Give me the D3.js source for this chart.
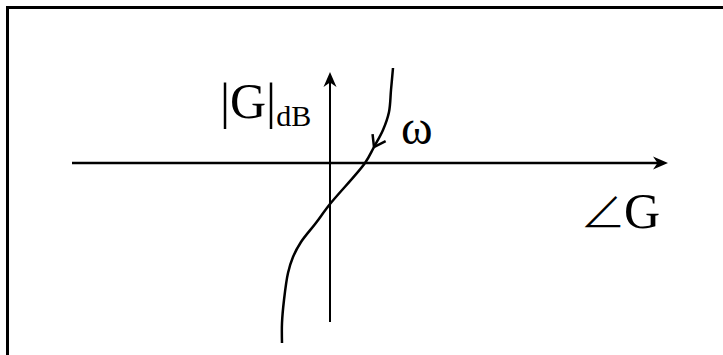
<!DOCTYPE html>
<html>
<head>
<meta charset="utf-8">
<script src="https://cdn.jsdelivr.net/npm/d3@7"></script>
<style>
    body { margin: 0; background: #fff; }
    text { font-family: "Liberation Serif", "Times New Roman", serif; fill: #000; }
</style>
</head>
<body>
<div id="nichols"></div>
<script>
//define sizes
let width = 723,
    height = 355;

let ink = "#000";

// phase (x) and magnitude in dB (y) of the curve (arbitrary units)
let phase = [6.3, 6.1, 5.9, 5.3, 4.4, 3.5, 0, -1.45, -2.9, -3.7, -4.2, -4.6, -4.8, -4.8];
let magDb = [9.5, 7.3, 5.1, 3.3, 1.6, 0, -4.1, -6.05, -7.9, -9.4, -11.0, -13.7, -16.0, -18.0];

// axis extents in the same units
let phaseExtent = [-25.8, 33.8];
let magExtent = [-15.9, 9.1];

// label texts
let yLabel = "|G|", ySub = "dB", angleSign = "\u2220", xLabel = "G", freqLabel = "\u03c9";

let curveData = phase.map((p, i) => ({phase: p, mag: magDb[i]}));

let svg = d3.select("#nichols")
    .append("svg")
    .attr("width", width)
    .attr("height", height);

// frame, only top and left edges show
svg.append("path")
    .attr("d", "M7.5," + height + "V7.5H" + width)
    .attr("fill", "none")
    .attr("stroke", ink)
    .attr("stroke-width", 3);

let xScale = d3.scaleLinear()
    .domain(phaseExtent)
    .range([72, 668]);

let yScale = d3.scaleLinear()
    .domain(magExtent)
    .range([322, 72]);

// horizontal axis (angle)
svg.append("line")
    .attr("x1", xScale(phaseExtent[0]))
    .attr("x2", xScale(phaseExtent[1]) - 6)
    .attr("y1", yScale(0))
    .attr("y2", yScale(0))
    .attr("stroke", ink)
    .attr("stroke-width", 2.5);

// vertical axis (magnitude)
svg.append("line")
    .attr("x1", xScale(0))
    .attr("x2", xScale(0))
    .attr("y1", yScale(magExtent[0]))
    .attr("y2", yScale(magExtent[1]) + 6)
    .attr("stroke", ink)
    .attr("stroke-width", 2);

// arrow heads, barbed style
function arrowHead(x, y, angle) {
    let p = d3.path();
    p.moveTo(0, 0);
    p.lineTo(-15, -6.5);
    p.lineTo(-10.5, 0);
    p.lineTo(-15, 6.5);
    p.closePath();
    svg.append("path")
        .attr("d", p.toString())
        .attr("fill", ink)
        .attr("transform", "translate(" + x + "," + y + ") rotate(" + angle + ")");
}
arrowHead(xScale(phaseExtent[1]), yScale(0), 0);
arrowHead(xScale(0), yScale(magExtent[1]), -90);

// the frequency curve
svg.append("path")
    .datum(curveData)
    .attr("fill", "none")
    .attr("stroke", ink)
    .attr("stroke-width", 2.5)
    .attr("d", d3.line()
        .x(d => xScale(d.phase))
        .y(d => yScale(d.mag))
        .curve(d3.curveCatmullRom.alpha(0.5)));

// open chevron showing direction of increasing omega
let k = 4;
let tipX = xScale(curveData[k].phase), tipY = yScale(curveData[k].mag);
let backX = xScale(curveData[k - 1].phase) - xScale(curveData[k + 1].phase);
let backY = yScale(curveData[k - 1].mag) - yScale(curveData[k + 1].mag);
let backAng = Math.atan2(backY, backX);
let armLen = 13, spread = 35 * Math.PI / 180;
svg.append("path")
    .attr("d", "M" + (tipX + armLen * Math.cos(backAng - spread)) + "," + (tipY + armLen * Math.sin(backAng - spread)) +
        "L" + tipX + "," + tipY +
        "L" + (tipX + armLen * Math.cos(backAng + spread)) + "," + (tipY + armLen * Math.sin(backAng + spread)))
    .attr("fill", "none")
    .attr("stroke", ink)
    .attr("stroke-width", 2.5);

// labels
let yText = svg.append("text")
    .attr("x", xScale(0) - 110)
    .attr("y", yScale(0) - 45)
    .attr("font-size", 50);
yText.append("tspan").text(yLabel);
yText.append("tspan")
    .attr("font-size", 30)
    .attr("dy", 8)
    .text(ySub);

svg.append("text")
    .attr("x", xScale(0) + 71)
    .attr("y", yScale(0) - 19)
    .attr("font-size", 48)
    .text(freqLabel);

// thin angle sign, CJK font has a light one
let xText = svg.append("text")
    .attr("x", xScale(phaseExtent[1]) - 88)
    .attr("y", yScale(0) + 65)
    .attr("font-size", 50);
xText.append("tspan")
    .style("font-family", "'Noto Sans CJK SC', 'DejaVu Sans'")
    .attr("font-weight", 300)
    .attr("font-size", 46)
    .text(angleSign);
xText.append("tspan")
    .attr("dx", -2)
    .text(xLabel);
</script>
</body>
</html>
